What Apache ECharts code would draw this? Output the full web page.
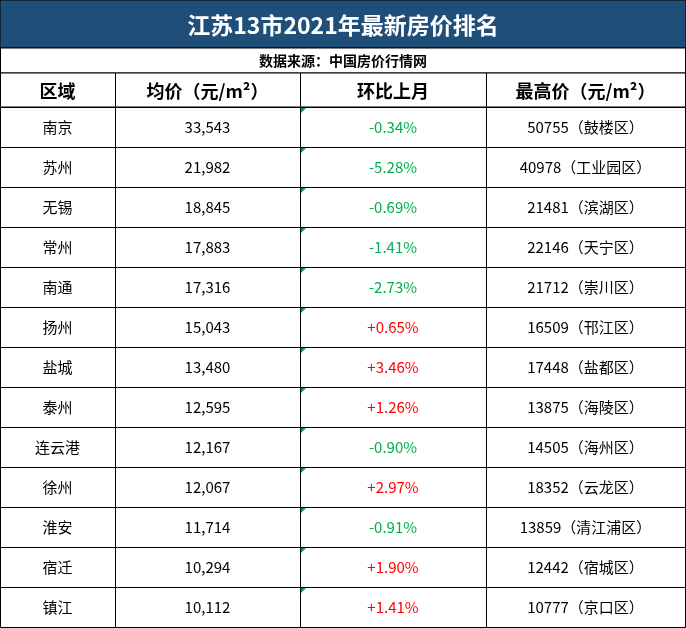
<!DOCTYPE html>
<html><head><meta charset="utf-8">
<script src="https://cdn.jsdelivr.net/npm/echarts@6/dist/echarts.min.js"></script>
<style>html,body{margin:0;padding:0;background:#fff}#main{width:686px;height:628px}</style>
</head><body><div id="main"></div>
<script>
const cities = ['南京','苏州','无锡','常州','南通','扬州','盐城','泰州','连云港','徐州','淮安','宿迁','镇江'];
const avgPrice = [33543,21982,18845,17883,17316,15043,13480,12595,12167,12067,11714,10294,10112];
const momChange = [-0.34,-5.28,-0.69,-1.41,-2.73,0.65,3.46,1.26,-0.90,2.97,-0.91,1.90,1.41];
const maxPrice = [50755,40978,21481,22146,21712,16509,17448,13875,14505,18352,13859,12442,10777];
const maxDistrict = ['鼓楼区','工业园区','滨湖区','天宁区','崇川区','邗江区','盐都区','海陵区','海州区','云龙区','清江浦区','宿城区','京口区'];
const headers = ['区域','均价（元/m²）','环比上月','最高价（元/m²）'];
const colX = [0, 115, 300, 486, 685];

const FONT = '"Noto Sans CJK SC", "Noto Sans", sans-serif';
const chart = echarts.init(document.getElementById('main'));

function fmt(v){ return v.toLocaleString('en-US'); }
function pct(v){ return (v > 0 ? '+' : '') + v.toFixed(2) + '%'; }

const rows = cities.map((c, i) => [i, c, fmt(avgPrice[i]), pct(momChange[i]), maxPrice[i] + '（' + maxDistrict[i] + '）', momChange[i]]);

const hdr = [];
// title band
hdr.push({type:'rect', shape:{x:0,y:0,width:686,height:48}, style:{fill:'#1F4E79', stroke:'#000', lineWidth:1}});
hdr.push({type:'text', x:343, y:25, style:{text:'江苏13市2021年最新房价排名', fill:'#fff', font:'bold 23px ' + FONT, align:'center', verticalAlign:'middle'}});
hdr.push({type:'rect', shape:{x:0.5,y:48,width:685,height:25}, style:{fill:'#fff', stroke:'#000', lineWidth:1}});
hdr.push({type:'text', x:343, y:61, style:{text:'数据来源：中国房价行情网', fill:'#000', font:'bold 14px ' + FONT, align:'center', verticalAlign:'middle'}});
for (let k = 0; k < 4; k++) {
  hdr.push({type:'rect', shape:{x:colX[k]+0.5,y:73,width:colX[k+1]-colX[k],height:34}, style:{fill:'#fff', stroke:'#000', lineWidth:1}});
  hdr.push({type:'text', x:(colX[k]+colX[k+1])/2, y:91, style:{text:headers[k], fill:'#000', font:'bold 18px ' + FONT, align:'center', verticalAlign:'middle'}});
}

chart.setOption({
  animation:false,
  grid:{left:0, right:0, top:107, bottom:1},
  xAxis:{type:'value', min:0, max:686, show:false},
  yAxis:{type:'category', data:cities, inverse:true, show:false},
  graphic:hdr,
  series:[{
    type:'custom',
    data:rows,
    encode:{y:0},
    renderItem:function(params, api){
      const i = api.value(0);
      const c = api.coord([0, i]);
      const h = api.size([0, 1])[1];
      const top = c[1] - h/2;
      const ch = [];
      const texts = [cities[i], fmt(avgPrice[i]), pct(momChange[i]), maxPrice[i] + '（' + maxDistrict[i] + '）'];
      for (let k = 0; k < 4; k++) {
        const x0 = api.coord([colX[k], i])[0];
        const x1 = api.coord([colX[k+1], i])[0];
        ch.push({type:'rect', shape:{x:x0+0.5, y:top+0.5, width:x1-x0, height:h}, style:{fill:'#fff', stroke:'#000', lineWidth:1}});
        let color = '#000';
        if (k === 2) color = momChange[i] < 0 ? '#00B050' : '#FF0000';
        ch.push({type:'text', x:(x0+x1)/2, y:c[1], style:{text:texts[k], fill:color, font:'15px ' + FONT, align:'center', verticalAlign:'middle'}});
        if (k === 2) ch.push({type:'polygon', shape:{points:[[x0+1,top+1],[x0+6,top+1],[x0+1,top+6]]}, style:{fill:'#00A050'}});
      }
      return {type:'group', children:ch};
    }
  }]
});
</script></body></html>
